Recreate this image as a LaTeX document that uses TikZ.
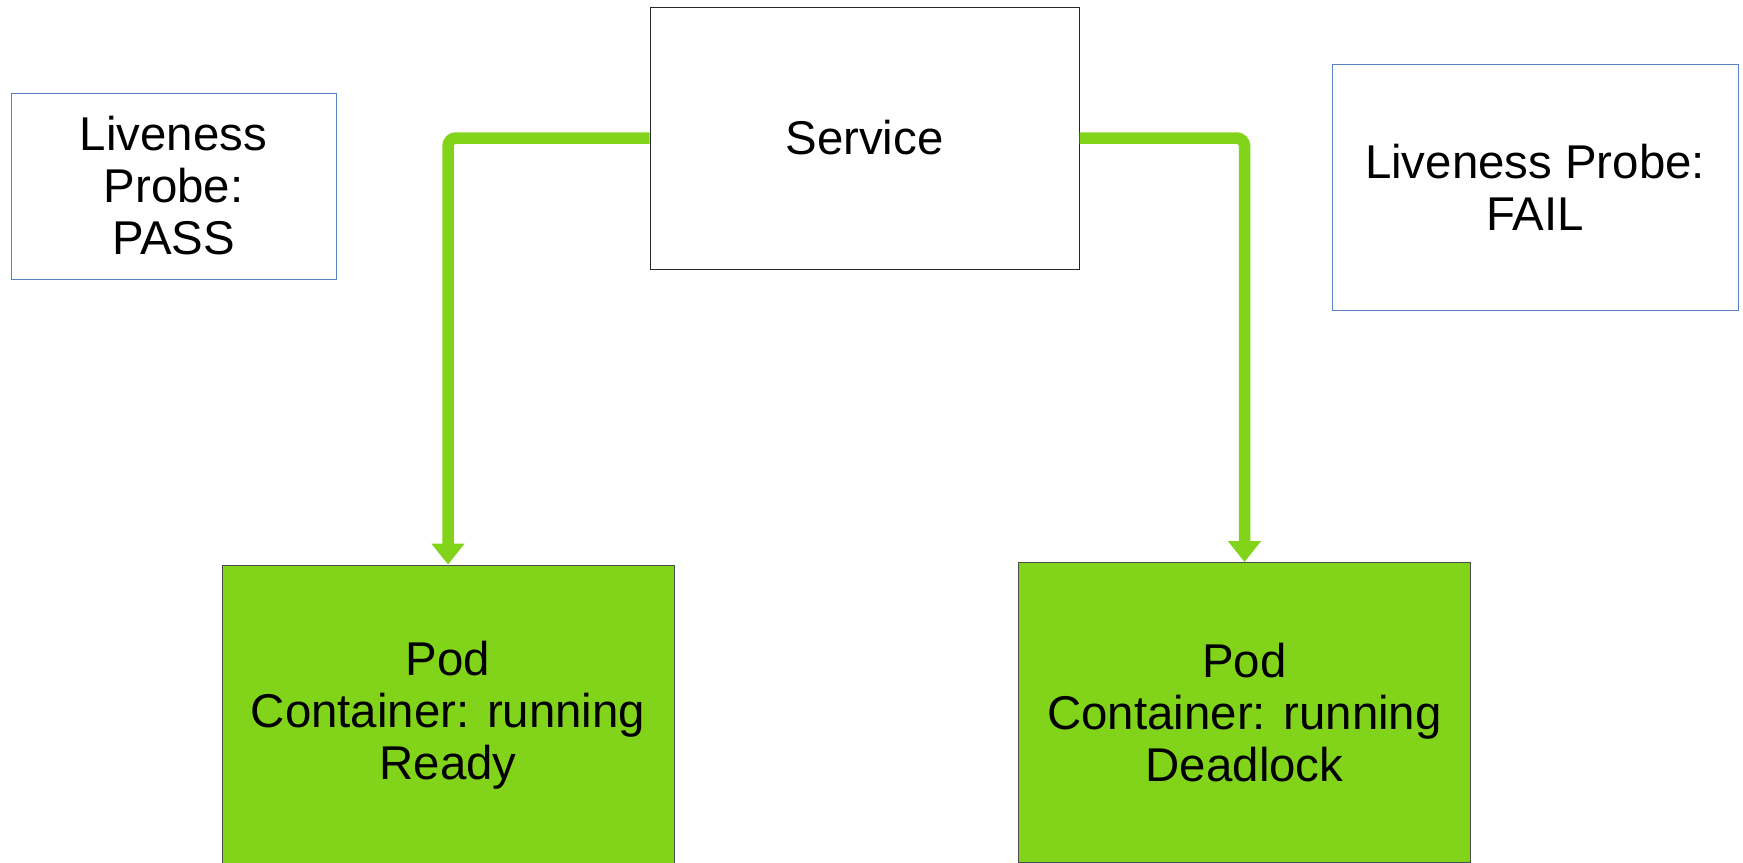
\documentclass[tikz,border=0pt]{standalone}
\usepackage{fontspec}
\setmainfont{Liberation Sans}
\usetikzlibrary{arrows.meta}

\definecolor{podgreen}{HTML}{81D41A}
\definecolor{probeblue}{RGB}{88,130,195}

\begin{document}
\begin{tikzpicture}[
    x=0.5pt, y=-0.5pt,
    box/.style={draw, inner sep=0pt, align=center, line width=0.5pt, font=\fontsize{23.7pt}{26pt}\selectfont},
    service/.style={box, draw=black!85, minimum width=214.5pt, minimum height=131pt},
    probe/.style={box, draw=probeblue},
    pod/.style={box, fill=podgreen, draw=black!70, minimum width=226pt, minimum height=150pt},
    arrow/.style={-{Triangle[width=16pt, length=10.5pt]}, podgreen, line width=5.75pt, rounded corners=4pt},
]
\useasboundingbox (0,0) rectangle (1743,862);
\clip (0,0) rectangle (1743,862);

% Service in the middle
\node[service] (service) at (864.5,138) {Service};

% Probe results
\node[probe, minimum width=162.5pt, minimum height=93pt] (probepass) at (173.5,186) {Liveness\\Probe:\\PASS};
\node[probe, minimum width=203pt, minimum height=123pt] (probefail) at (1535,187) {Liveness Probe:\\FAIL};

% Pods
\node[pod] (podready) at (448,715) {Pod\\Container: running\\Ready};
\node[pod] (poddead) at (1244.5,712.5) {Pod\\Container: running\\Deadlock};

% Traffic from the service
\draw[arrow] (service.west) -| (podready.north);
\draw[arrow] (service.east) -| (poddead.north);

\end{tikzpicture}
\end{document}
